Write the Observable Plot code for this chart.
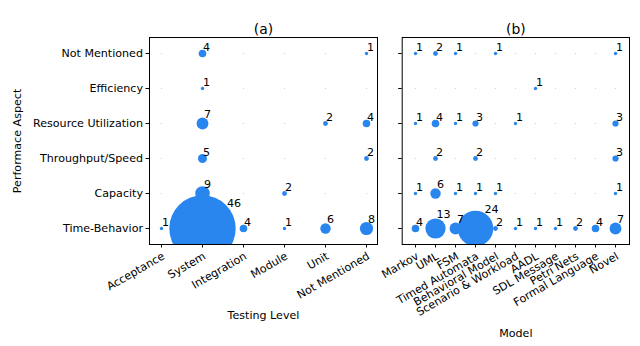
<!DOCTYPE html>
<html><head><meta charset="utf-8">
<script src="https://cdn.jsdelivr.net/npm/d3@7"></script>
<script src="https://cdn.jsdelivr.net/npm/@observablehq/plot@0.6"></script>
<style>
body{margin:0;background:#fff;}
#chart{position:relative;width:640px;height:346px;background:#fff;font-family:"DejaVu Sans",sans-serif;}
#chart svg{position:absolute;top:0;overflow:visible;}
</style></head><body><div id="chart"></div>
<script>
const aspects = ["Not Mentioned", "Efficiency", "Resource Utilization", "Throughput/Speed", "Capacity", "Time-Behavior"];
const testingLevels = ["Acceptance", "System", "Integration", "Module", "Unit", "Not Mentioned"];
const models = ["Markov", "UML", "FSM", "Timed Automata", "Behavioral Model", "Scenario & Workload", "AADL", "SDL Message", "Petri Nets", "Formal Language", "Novel"];
// rows follow aspects, columns follow testingLevels
const levelCounts = [
  [0, 4, 0, 0, 0, 1],
  [0, 1, 0, 0, 0, 0],
  [0, 7, 0, 0, 2, 4],
  [0, 5, 0, 0, 0, 2],
  [0, 9, 0, 2, 0, 0],
  [1, 46, 4, 1, 6, 8]
];
// rows follow aspects, columns follow models
const modelCounts = [
  [1, 2, 1, 0, 1, 0, 0, 0, 0, 0, 1],
  [0, 0, 0, 0, 0, 0, 1, 0, 0, 0, 0],
  [1, 4, 1, 3, 0, 1, 0, 0, 0, 0, 3],
  [0, 2, 0, 2, 0, 0, 0, 0, 0, 0, 3],
  [1, 6, 1, 1, 1, 0, 0, 0, 0, 0, 1],
  [4, 13, 7, 24, 2, 1, 1, 1, 2, 4, 7]
];
const panelTitles = ["(a)", "(b)"];
const xLabels = ["Testing Level", "Model"];
const yLabel = "Performace Aspect";

const color = "#2a86ef";
const fs = 11.1;
const rScale = {type: "linear", domain: [0, 46], range: [1, 33.2]};
const labelClasses = [
  {lo: 1, hi: 5, dx: 0.5, dy: -6},
  {lo: 6, hi: 9, dx: 1.5, dy: -9},
  {lo: 10, hi: 19, dx: 1, dy: -14},
  {lo: 20, hi: 39, dx: 9, dy: -19.5},
  {lo: 40, hi: 99, dx: 24.5, dy: -25}
];

function cells(cols, counts) {
  return aspects.flatMap((a, i) => cols.map((c, j) => ({aspect: a, cat: c, n: counts[i][j]})));
}

function panel(cols, counts, opts) {
  const data = cells(cols, counts);
  const zeros = data.filter(d => d.n === 0);
  const vals = data.filter(d => d.n > 0);
  const marks = [
    Plot.dot(zeros, {x: "cat", y: "aspect", r: 0.7, fill: color, fillOpacity: 0.3}),
    Plot.dot(vals, {x: "cat", y: "aspect", r: "n", fill: color, clip: true}),
    ...labelClasses.map(c => Plot.text(vals.filter(d => d.n >= c.lo && d.n <= c.hi), {
      x: "cat", y: "aspect", text: d => String(d.n), textAnchor: "start", lineAnchor: "middle",
      dx: c.dx, dy: c.dy, fontSize: fs, fill: "black"
    })),
    Plot.frame({stroke: "black", strokeWidth: 1}),
    Plot.axisX({anchor: "bottom", tickSize: 3.5, tickFormat: () => "", label: null}),
    Plot.axisY({anchor: "left", tickSize: 3.5, tickPadding: 3, tickFormat: opts.yTicks ? d => d : () => "", label: null, fontSize: fs}),
    Plot.text(cols, {x: d => d, frameAnchor: "bottom", text: d => d, rotate: -30, textAnchor: "end", lineAnchor: "top", dy: 7, fontSize: fs, fill: "black"}),
    Plot.text([opts.title], {frameAnchor: "top", text: d => d, lineAnchor: "bottom", dy: -4, fontSize: 13.9, fill: "black"}),
    Plot.text([opts.xLabel], {frameAnchor: "bottom", text: d => d, lineAnchor: "middle", dy: opts.xLabelDy, fontSize: fs, fill: "black"})
  ];
  if (opts.yLabel) marks.push(Plot.text([opts.yLabel], {frameAnchor: "left", text: d => d, rotate: -90, textAnchor: "middle", lineAnchor: "middle", dx: -132, fontSize: fs, fill: "black"}));
  return Plot.plot({
    width: opts.width, height: 346,
    marginLeft: opts.ml, marginRight: opts.mr, marginTop: 37, marginBottom: 102,
    style: {fontFamily: "DejaVu Sans", fontSize: fs + "px", color: "black", background: "transparent", overflow: "visible"},
    x: {type: "point", domain: cols, padding: opts.xPad, axis: null},
    y: {type: "point", domain: aspects, padding: 0.44, axis: null},
    r: rScale,
    marks
  });
}

const chart = document.getElementById("chart");
const a = panel(testingLevels, levelCounts, {width: 390, ml: 149, mr: 13, xPad: 0.25, yTicks: true, title: panelTitles[0], xLabel: xLabels[0], xLabelDy: 71, yLabel});
a.style.left = "0px";
chart.appendChild(a);
const b = panel(models, modelCounts, {width: 250, ml: 11.7, mr: 11, xPad: 0.5, yTicks: false, title: panelTitles[1], xLabel: xLabels[1], xLabelDy: 89});
b.style.left = "390px";
chart.appendChild(b);
</script></body></html>
